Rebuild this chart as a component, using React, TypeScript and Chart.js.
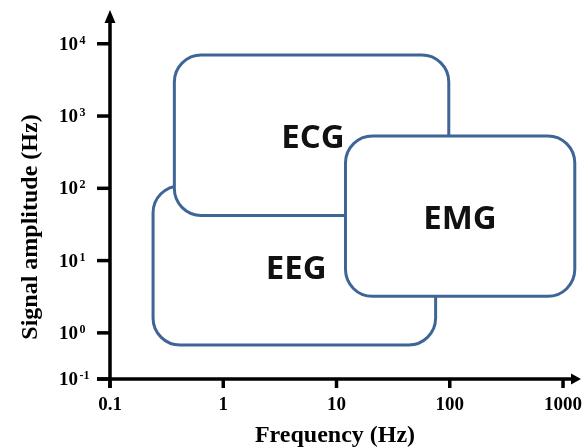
import React, { useEffect, useRef } from "react";
import { Chart, registerables } from "chart.js";

Chart.register(...registerables);

// ---- data ----
const regionNames = ["EEG", "ECG", "EMG"];
const freqLow = [0.24, 0.37, 12];      // Hz
const freqHigh = [75, 98, 1270];       // Hz
const ampLow = [0.68, 42, 3.2];
const ampHigh = [108, 7000, 530];
const labelFreq = [4.4, 6.2, 123];
const labelAmp = [8.2, 525, 40];

const xTickValues = [0.1, 1, 10, 100, 1000];
const xTickLabels = ["0.1", "1", "10", "100", "1000"];
// the schematic's bottom tick (axis origin) is labelled 10^-1
const Y_MIN = 0.23;
const Y_MAX = 20000;
const X_MIN = 0.1;
const X_MAX = 1200;
const yTickValues = [Y_MIN, 1, 10, 100, 1000, 10000];
const yTickExponents = ["-1", "0", "1", "2", "3", "4"];

const xTitle = "Frequency (Hz)";
const yTitle = "Signal amplitude (Hz)";

const BOX_COLOR = "#3F6597";
const SERIF = '"Liberation Serif", "Times New Roman", serif';

function roundRectPath(ctx: CanvasRenderingContext2D, x1: number, y1: number, x2: number, y2: number, r: number) {
  const l = Math.min(x1, x2), rr = Math.max(x1, x2);
  const t = Math.min(y1, y2), b = Math.max(y1, y2);
  ctx.beginPath();
  ctx.moveTo(l + r, t);
  ctx.lineTo(rr - r, t);
  ctx.arcTo(rr, t, rr, t + r, r);
  ctx.lineTo(rr, b - r);
  ctx.arcTo(rr, b, rr - r, b, r);
  ctx.lineTo(l + r, b);
  ctx.arcTo(l, b, l, b - r, r);
  ctx.lineTo(l, t + r);
  ctx.arcTo(l, t, l + r, t, r);
  ctx.closePath();
}

const schematicPlugin = {
  id: "schematic",
  afterDraw(chart: any) {
    const ctx: CanvasRenderingContext2D = chart.ctx;
    const xs = chart.scales.x;
    const ys = chart.scales.y;
    const area = chart.chartArea;
    ctx.save();

    // regions
    for (let i = 0; i < regionNames.length; i++) {
      const x1 = xs.getPixelForValue(freqLow[i]);
      const x2 = xs.getPixelForValue(freqHigh[i]);
      const y1 = ys.getPixelForValue(ampHigh[i]);
      const y2 = ys.getPixelForValue(ampLow[i]);
      roundRectPath(ctx, x1, y1, x2, y2, 27);
      ctx.fillStyle = "#ffffff";
      ctx.fill();
      ctx.lineWidth = 3;
      ctx.strokeStyle = BOX_COLOR;
      ctx.stroke();
    }
    // region labels
    ctx.fillStyle = "#111111";
    ctx.font = '700 33px "Open Sans", "Noto Sans", sans-serif';
    ctx.textAlign = "center";
    ctx.textBaseline = "alphabetic";
    for (let i = 0; i < regionNames.length; i++) {
      const x = xs.getPixelForValue(labelFreq[i]);
      const y = ys.getPixelForValue(labelAmp[i]);
      ctx.fillText(regionNames[i], x, y + 12);
    }

    // axes
    const x0 = area.left;
    const y0 = area.bottom;
    ctx.strokeStyle = "#000";
    ctx.fillStyle = "#000";
    ctx.lineWidth = 3.5;
    ctx.lineCap = "butt";
    ctx.beginPath();
    ctx.moveTo(x0, y0 + 9);
    ctx.lineTo(x0, area.top);
    ctx.moveTo(x0 - 13, y0);
    ctx.lineTo(area.right, y0);
    ctx.stroke();
    // arrows
    ctx.beginPath();
    ctx.moveTo(x0, area.top - 12);
    ctx.lineTo(x0 + 5.5, area.top + 1);
    ctx.lineTo(x0 - 5.5, area.top + 1);
    ctx.closePath();
    ctx.fill();
    ctx.beginPath();
    ctx.moveTo(area.right + 9, y0);
    ctx.lineTo(area.right - 1, y0 - 5.5);
    ctx.lineTo(area.right - 1, y0 + 5.5);
    ctx.closePath();
    ctx.fill();

    // y ticks
    for (let i = 0; i < yTickValues.length; i++) {
      const y = ys.getPixelForValue(yTickValues[i]);
      ctx.beginPath();
      ctx.moveTo(x0 - 13, y);
      ctx.lineTo(x0, y);
      ctx.stroke();
      ctx.font = `700 19px ${SERIF}`;
      ctx.textAlign = "right";
      ctx.fillText("10", 78, y + 6);
      ctx.font = `700 12px ${SERIF}`;
      ctx.textAlign = "left";
      ctx.fillText(yTickExponents[i], 79.5, y);
    }
    // x ticks
    for (let i = 0; i < xTickValues.length; i++) {
      const x = xs.getPixelForValue(xTickValues[i]);
      ctx.beginPath();
      ctx.moveTo(x, y0);
      ctx.lineTo(x, y0 + 9);
      ctx.stroke();
      ctx.font = `700 19px ${SERIF}`;
      ctx.textAlign = "center";
      ctx.fillText(xTickLabels[i], x, 410);
    }

    // titles
    ctx.font = `700 24px ${SERIF}`;
    ctx.textAlign = "center";
    ctx.fillText(xTitle, 335, 442);
    ctx.save();
    ctx.translate(37, 227);
    ctx.rotate(-Math.PI / 2);
    ctx.fillText(yTitle, 0, 0);
    ctx.restore();

    ctx.restore();
  },
};

export default function App() {
  const ref = useRef<HTMLCanvasElement | null>(null);
  useEffect(() => {
    if (!ref.current) return;
    const chart = new Chart(ref.current, {
      type: "scatter",
      data: {
        datasets: [
          {
            label: "labels",
            data: labelFreq.map((f, i) => ({ x: f, y: labelAmp[i] })),
            pointRadius: 0,
          },
        ],
      },
      options: {
        responsive: false,
        animation: false,
        layout: { padding: { left: 110, top: 22, right: 10, bottom: 69 } },
        scales: {
          x: { type: "logarithmic", min: X_MIN, max: X_MAX, display: false },
          y: { type: "logarithmic", min: Y_MIN, max: Y_MAX, display: false },
        },
        plugins: { legend: { display: false }, tooltip: { enabled: false } },
      },
      plugins: [schematicPlugin],
    });
    return () => chart.destroy();
  }, []);
  return (
    <div style={{ position: "fixed", left: 0, top: 0, width: 582, height: 448, background: "#fff" }}>
      <canvas ref={ref} width={582} height={448} />
    </div>
  );
}
